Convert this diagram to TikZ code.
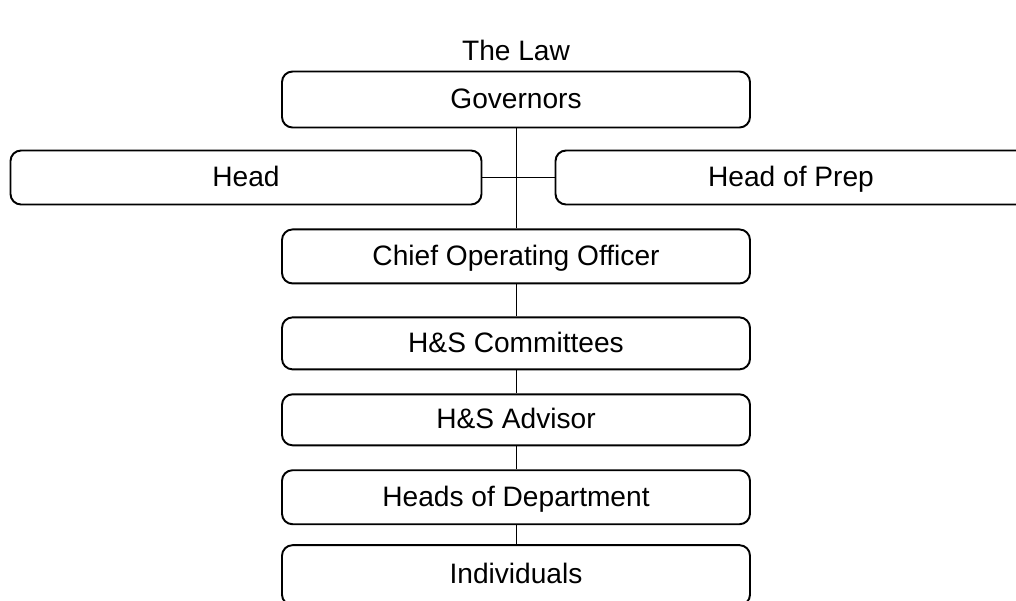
\documentclass[tikz,border=0pt]{standalone}
\usepackage{fontspec}
\setmainfont{Liberation Sans}
\usetikzlibrary{positioning}

\begin{document}
\begin{tikzpicture}[
  font=\fontsize{16}{19}\selectfont,
  node distance=0.45cm,
  post/.style={
    rectangle, rounded corners=6pt, draw=black, line width=1.1pt,
    fill=white, inner sep=0pt, text height=1.0em, text depth=0pt,
    minimum height=1.08cm, minimum width=9.36cm
  },
  side/.style={post, minimum width=9.42cm},
  link/.style={draw=black, line width=0.5pt}
]
\useasboundingbox (0,0) rectangle (20.32,-12);
\clip (0,0) rectangle (20.32,-12);

% Title and top of the chain
\node (title) at (10.32,-1.0) {The Law};
\node[post, minimum height=1.12cm] (governors) at (10.32,-1.99) {Governors};

% Heads either side of the spine
\node[side] (head) at (4.92,-3.55) {Head};
\node[side] (headPrep) at (15.82,-3.55) {Head of Prep};

% Main chain
\node[post, below=2.0cm of governors] (coo) {Chief Operating Officer};
\node[post, minimum height=1.04cm, below=0.64cm of coo] (committees) {H\&S Committees};
\node[post, minimum height=1.02cm, below=0.46cm of committees] (advisor) {H\&S Advisor};
\node[post, below=0.46cm of advisor] (hods) {Heads of Department};
\node[post, minimum height=1.2cm, below=0.38cm of hods] (individuals) {Individuals};

% --- links ---
\draw[link] (governors.south) -- (coo.north);
\draw[link] (head.east) -- (headPrep.west);
\draw[link] (coo.south) -- (committees.north);
\draw[link] (committees.south) -- (advisor.north);
\draw[link] (advisor.south) -- (hods.north);
\draw[link] (hods.south) -- (individuals.north);

\end{tikzpicture}
\end{document}
